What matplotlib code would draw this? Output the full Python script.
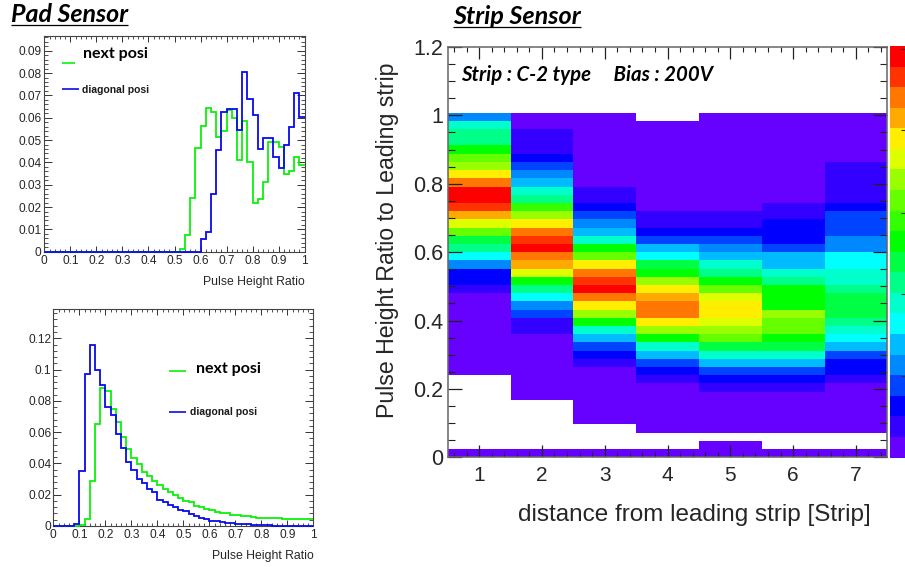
import numpy as np
import matplotlib
matplotlib.use('Agg')
import matplotlib.pyplot as plt
from matplotlib.colors import ListedColormap, BoundaryNorm
from matplotlib.lines import Line2D
from matplotlib.ticker import MultipleLocator, FixedLocator

W, H = 905, 567
N = np.nan

# ---- Data -----
bin_edges = np.linspace(0, 1, 51)

pad1_next = [0]*26 + [0.001, 0.0075, 0.024, 0.0465, 0.0565, 0.0645, 0.0625, 0.0515, 0.054, 0.0635,
                      0.060, 0.041, 0.0585, 0.040, 0.022, 0.0235, 0.031, 0.049, 0.049, 0.047,
                      0.035, 0.036, 0.0425, 0.039]
pad1_diag = [0]*30 + [0.0055, 0.009, 0.026, 0.0455, 0.0625, 0.064, 0.064, 0.0545, 0.0805, 0.0685,
                      0.061, 0.046, 0.051, 0.051, 0.0425, 0.0375, 0.048, 0.056, 0.071, 0.0605]

pad2_next = [0]*5 + [0.0005, 0.0045, 0.029, 0.065, 0.0885, 0.086, 0.0745, 0.0665, 0.057, 0.0495,
                     0.0435, 0.0395, 0.0345, 0.032, 0.029, 0.0265, 0.0235, 0.0215, 0.020, 0.018,
                     0.016, 0.0155, 0.0125, 0.012, 0.011, 0.010, 0.009, 0.0085, 0.0085, 0.007,
                     0.0068, 0.0065, 0.0062, 0.0055, 0.0053, 0.0052, 0.005, 0.005, 0.0048, 0.0047,
                     0.0045, 0.0043, 0.0043, 0.0042, 0.0042]
pad2_diag = [0]*4 + [0.001, 0.035, 0.097, 0.1155, 0.100, 0.090, 0.076, 0.071, 0.059, 0.050,
                     0.041, 0.036, 0.030, 0.0275, 0.0235, 0.022, 0.0165, 0.0155, 0.0135, 0.012,
                     0.0105, 0.0095, 0.0075, 0.0065, 0.005, 0.0042, 0.0035, 0.003, 0.0025, 0.002,
                     0.0018, 0.0015, 0.0012, 0.001, 0.0008, 0.0006, 0.0005, 0.0004, 0.0003, 0.0003,
                     0.0002, 0.0002, 0.0002, 0.0001, 0.0001, 0.0001]

# Strip sensor: palette level per row, listed from top row down to the bottom row
strip_edges_x = np.arange(0.5, 8.0, 1.0)
strip_edges_y = np.arange(0, 43) * 0.024
strip_1 = [4, 7, 8, 8, 10, 12, 13, 15, 17, 19, 19, 18, 16, 14, 12, 9, 8, 6, 4, 2, 2, 1,
           0, 0, 0, 0, 0, 0, 0, 0, 0, 0, N, N, N, N, N, N, N, N, N, 0]
strip_2 = [0, 0, 1, 1, 1, 2, 3, 4, 5, 7, 8, 11, 13, 15, 17, 18, 19, 17, 16, 14, 10, 8,
           6, 4, 3, 1, 1, 0, 0, 0, 0, 0, 0, 0, 0, N, N, N, N, N, N, 0]
strip_3 = [0, 0, 0, 0, 0, 0, 0, 0, 0, 1, 1, 2, 3, 4, 5, 7, 10, 12, 15, 17, 18, 19,
           17, 15, 13, 10, 7, 5, 3, 2, 1, 0, 0, 0, 0, 0, 0, 0, N, N, N, 0]
strip_4 = [N, 0, 0, 0, 0, 0, 0, 0, 0, 0, 0, 0, 1, 1, 2, 3, 5, 6, 9, 10, 13, 15,
           16, 17, 17, 15, 13, 10, 7, 5, 3, 2, 1, 0, 0, 0, 0, 0, 0, N, N, 0]
strip_5 = [0, 0, 0, 0, 0, 0, 0, 0, 0, 0, 0, 0, 1, 1, 2, 3, 4, 5, 7, 8, 10, 12,
           14, 15, 15, 14, 13, 12, 9, 7, 5, 3, 2, 1, 0, 0, 0, 0, 0, N, 0, 0]
strip_6 = [0, 0, 0, 0, 0, 0, 0, 0, 0, 0, 0, 1, 1, 2, 2, 2, 3, 5, 5, 7, 8, 10,
           10, 10, 13, 12, 12, 10, 9, 7, 5, 3, 2, 1, 0, 0, 0, 0, 0, N, N, 0]
strip_7 = [0, 0, 0, 0, 0, 0, 1, 1, 1, 1, 1, 2, 3, 3, 3, 4, 4, 6, 6, 7, 7, 8,
           9, 9, 9, 8, 7, 6, 5, 3, 2, 2, 1, 0, 0, 0, 0, 0, 0, N, N, 0]

palette = ['#6600ff', '#3300ff', '#0000ff', '#0044ff', '#0088ff', '#00bbff', '#00ffff',
           '#00ffcc', '#00ff88', '#00ff44', '#00ff00', '#33ff00', '#66ff00', '#99ff00',
           '#ddff00', '#ffee00', '#ffaa00', '#ff7700', '#ff3300', '#ff0000']
palette_levels = np.arange(len(palette))
palette_ticks = [3.97, 7.96, 11.9, 15.9, 19.85]

x_ratio_labels = ['0', '0.1', '0.2', '0.3', '0.4', '0.5', '0.6', '0.7', '0.8', '0.9', '1']
pad1_y_labels = ['0', '0.01', '0.02', '0.03', '0.04', '0.05', '0.06', '0.07', '0.08', '0.09']
pad2_y_labels = ['0', '0.02', '0.04', '0.06', '0.08', '0.1', '0.12']
strip_y_labels = ['0', '0.2', '0.4', '0.6', '0.8', '1', '1.2']

# ---- Style -----
plt.rcParams['font.family'] = ['Liberation Sans', 'DejaVu Sans']
TXT = '#262626'
GREEN = '#0bf00b'
BLUE = '#0a0aee'
px = 0.72

fig = plt.figure(figsize=(W / 100, H / 100), dpi=100, facecolor='white')


def ax_px(l, t, r, b):
    return fig.add_axes([l / W, 1 - b / H, (r - l) / W, (b - t) / H])


def fx(x):
    return x / W


def fy(y):
    return 1 - y / H


def ftext(x, y, s, **kw):
    kw.setdefault('va', 'center')
    kw.setdefault('color', 'black')
    return fig.text(fx(x), fy(y), s, **kw)


def fline(x0, x1, y, color, lw=1.2):
    fig.add_artist(Line2D([fx(x0), fx(x1)], [fy(y), fy(y)], color=color, lw=lw,
                          solid_capstyle='butt'))


def pad_panel(box, ylim, ymaj, ymin, ylabels, nxt, diag, xlabel_y, ypad):
    ax = ax_px(*box)
    ax.stairs(nxt, bin_edges, color=GREEN, lw=1.3, baseline=None, clip_on=False, zorder=3)
    ax.stairs(diag, bin_edges, color=BLUE, lw=1.3, baseline=None, clip_on=False, zorder=4)
    ax.set_xlim(0, 1)
    ax.set_ylim(0, ylim)
    ax.xaxis.set_major_locator(FixedLocator(np.linspace(0, 1, len(x_ratio_labels))))
    ax.set_xticklabels(x_ratio_labels)
    ax.xaxis.set_minor_locator(MultipleLocator(0.02))
    ax.yaxis.set_major_locator(FixedLocator(np.arange(len(ylabels)) * ymaj))
    ax.set_yticklabels(ylabels)
    ax.yaxis.set_minor_locator(MultipleLocator(ymin))
    ax.tick_params(axis='x', which='major', direction='in', top=True, length=6 * px, width=0.7,
                   color='#333333', labelsize=8.6, labelcolor=TXT, pad=2.5)
    ax.tick_params(axis='x', which='minor', direction='in', top=True, length=3 * px, width=0.6,
                   color='#333333')
    ax.tick_params(axis='y', which='major', direction='in', right=True, length=8 * px, width=0.7,
                   color='#333333', labelsize=8.6, labelcolor=TXT, pad=ypad)
    ax.tick_params(axis='y', which='minor', direction='in', right=True, length=4 * px, width=0.6,
                   color='#333333')
    for s in ax.spines.values():
        s.set_color('#444444')
        s.set_linewidth(0.8)
    ax.set_xlabel('Pulse Height Ratio', loc='right', fontsize=8.8, color=TXT)
    ax.xaxis.set_label_coords(1.0, (box[3] - xlabel_y) / (box[3] - box[1]))
    ax.xaxis.label.set_va('center')
    return ax


# ---- Pad sensor panels ----
pad_panel((44.3, 36, 304.7, 251.7), 0.0966, 0.01, 0.002, pad1_y_labels, pad1_next, pad1_diag, 282, 2)
pad_panel((53.3, 309.3, 313.3, 526), 0.1385, 0.02, 0.004, pad2_y_labels, pad2_next, pad2_diag, 556, 1.5)

fline(61.7, 75, 63.3, GREEN)
ftext(83, 54, 'next posi', family='Lato', weight='bold', fontsize=11.5)
fline(62, 79, 89.3, BLUE)
ftext(81.7, 90, 'diagonal posi', weight='bold', fontsize=7.5, color='#1a1a1a')
fline(169, 186, 370.7, GREEN)
ftext(196, 369, 'next posi', family='Lato', weight='bold', fontsize=11.5)
fline(169, 186, 412.3, BLUE)
ftext(190, 411.7, 'diagonal posi', weight='bold', fontsize=7.5, color='#1a1a1a')

# ---- Titles ----
ftext(11, 15, 'Pad Sensor', family='Lato', weight='bold', style='italic', fontsize=18)
fline(11, 128, 25, 'black', lw=0.9)
ftext(453, 16, 'Strip Sensor', family='Lato', weight='bold', style='italic', fontsize=18.2)
fline(453, 581, 26.5, 'black', lw=0.9)

# ---- Strip sensor heatmap ----
box = (447.7, 47, 887.3, 457.3)
ax = ax_px(*box)
grid = np.array([strip_1, strip_2, strip_3, strip_4, strip_5, strip_6, strip_7], float).T[::-1]
cmap = ListedColormap(palette)
cmap.set_bad('white')
norm = BoundaryNorm(np.arange(len(palette) + 1) - 0.5, cmap.N)
ax.pcolormesh(strip_edges_x, strip_edges_y, np.ma.masked_invalid(grid), cmap=cmap, norm=norm,
              antialiased=False, linewidth=0)
ax.set_xlim(0.5, 7.5)
ax.set_ylim(0, 1.2)
ax.xaxis.set_major_locator(FixedLocator(np.arange(1, 8)))
ax.xaxis.set_minor_locator(MultipleLocator(0.2))
ax.yaxis.set_major_locator(FixedLocator(np.arange(len(strip_y_labels)) * 0.2))
ax.set_yticklabels(strip_y_labels)
ax.yaxis.set_minor_locator(MultipleLocator(0.05))
ax.tick_params(axis='x', which='major', direction='in', top=True, length=12 * px, width=0.9,
               color='#222222', labelsize=15, labelcolor=TXT, pad=6)
ax.tick_params(axis='x', which='minor', direction='in', top=True, length=5 * px, width=0.8,
               color='#222222')
ax.tick_params(axis='y', which='major', direction='in', right=True, length=14 * px, width=0.9,
               color='#222222', labelsize=15.5, labelcolor=TXT, pad=3)
ax.tick_params(axis='y', which='minor', direction='in', right=True, length=7 * px, width=0.8,
               color='#222222')
for s in ax.spines.values():
    s.set_color('#666666')
    s.set_linewidth(1.1)
ax.set_xlabel('distance from leading strip [Strip]', fontsize=17.5, color=TXT, loc='right')
ax.xaxis.set_label_coords((871 - box[0]) / (box[2] - box[0]), (box[3] - 515) / (box[3] - box[1]))
ax.xaxis.label.set_va('center')
ax.set_ylabel('Pulse Height Ratio to Leading strip', fontsize=16.7, color=TXT, loc='top')
ax.yaxis.set_label_coords((387 - box[0]) / (box[2] - box[0]), (box[3] - 62) / (box[3] - box[1]))
ax.yaxis.label.set_va('center')

ftext(461, 75, 'Strip : C-2 type     Bias : 200V', family='Lato', weight='bold', style='italic',
      fontsize=14.7)

# ---- Palette (cut by the page edge) ----
cax = ax_px(890, 46, 905, 457.5)
cax.pcolormesh([0, 1], np.arange(len(palette) + 1), palette_levels[:, None], cmap=ListedColormap(palette),
               norm=BoundaryNorm(np.arange(len(palette) + 1) - 0.5, len(palette)), antialiased=False)
cax.set_xticks([])
cax.yaxis.tick_right()
cax.set_yticks(palette_ticks)
cax.set_yticklabels([])
cax.tick_params(axis='y', direction='in', length=4 * px, width=0.8, color='#333333')
for s in cax.spines.values():
    s.set_visible(False)

fig.savefig('out.png', dpi=100, facecolor='white')
